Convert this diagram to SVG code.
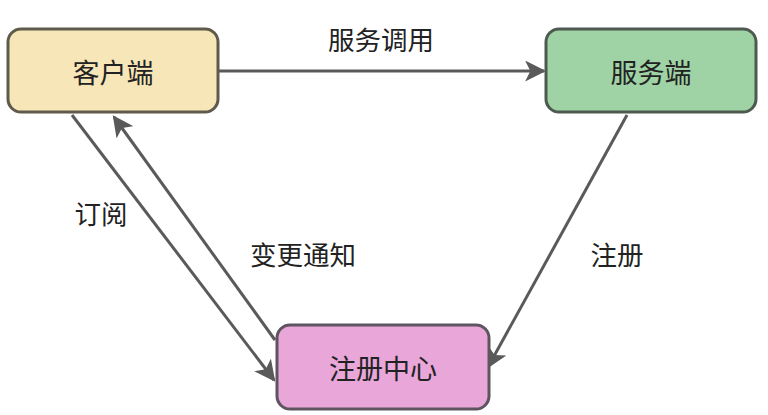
<svg xmlns="http://www.w3.org/2000/svg" width="768" height="415" viewBox="0 0 768 415">
<style>
text{font-family:"Noto Sans CJK SC","Noto Sans",sans-serif;fill:#222;text-anchor:middle;dominant-baseline:central}
.box{stroke-width:3}
.node text{font-size:27px}
.lbl{font-size:26.5px}
.edge{stroke:#5a5a5a;stroke-width:3;fill:none;marker-end:url(#ah)}
</style>
<defs>
<marker id="ah" viewBox="0 0 10 10" refX="9" refY="5" markerWidth="7" markerHeight="7" markerUnits="strokeWidth" orient="auto">
<path d="M0,0 L10,5 L0,10 L2.5,5 Z" fill="#5a5a5a"/>
</marker>
</defs>
<rect width="768" height="415" fill="#fff"/>
<g id="connectors">
<line class="edge" x1="219" y1="71" x2="544" y2="71"/>
<line class="edge" x1="72" y1="115" x2="274" y2="380"/>
<line class="edge" x1="275" y1="340" x2="114" y2="117"/>
<line class="edge" x1="627" y1="115" x2="488" y2="367"/>
<text class="lbl" x="381" y="38">服务调用</text>
<text class="lbl" x="101" y="212">订阅</text>
<text class="lbl" x="303" y="253">变更通知</text>
<text class="lbl" x="617" y="253">注册</text>
</g>
<g id="client" class="node">
<rect class="box" x="8" y="29" width="210" height="83" rx="13" fill="#f7e6b8" stroke="#5e5a4c"/>
<text x="113" y="71">客户端</text>
</g>
<g id="server" class="node">
<rect class="box" x="546" y="29" width="210" height="83" rx="13" fill="#9fd3a5" stroke="#4e5a4f"/>
<text x="651" y="71">服务端</text>
</g>
<g id="registry" class="node">
<rect class="box" x="277" y="325" width="212" height="84" rx="13" fill="#e8a6d9" stroke="#5e5560"/>
<text x="383" y="367">注册中心</text>
</g>
</svg>
